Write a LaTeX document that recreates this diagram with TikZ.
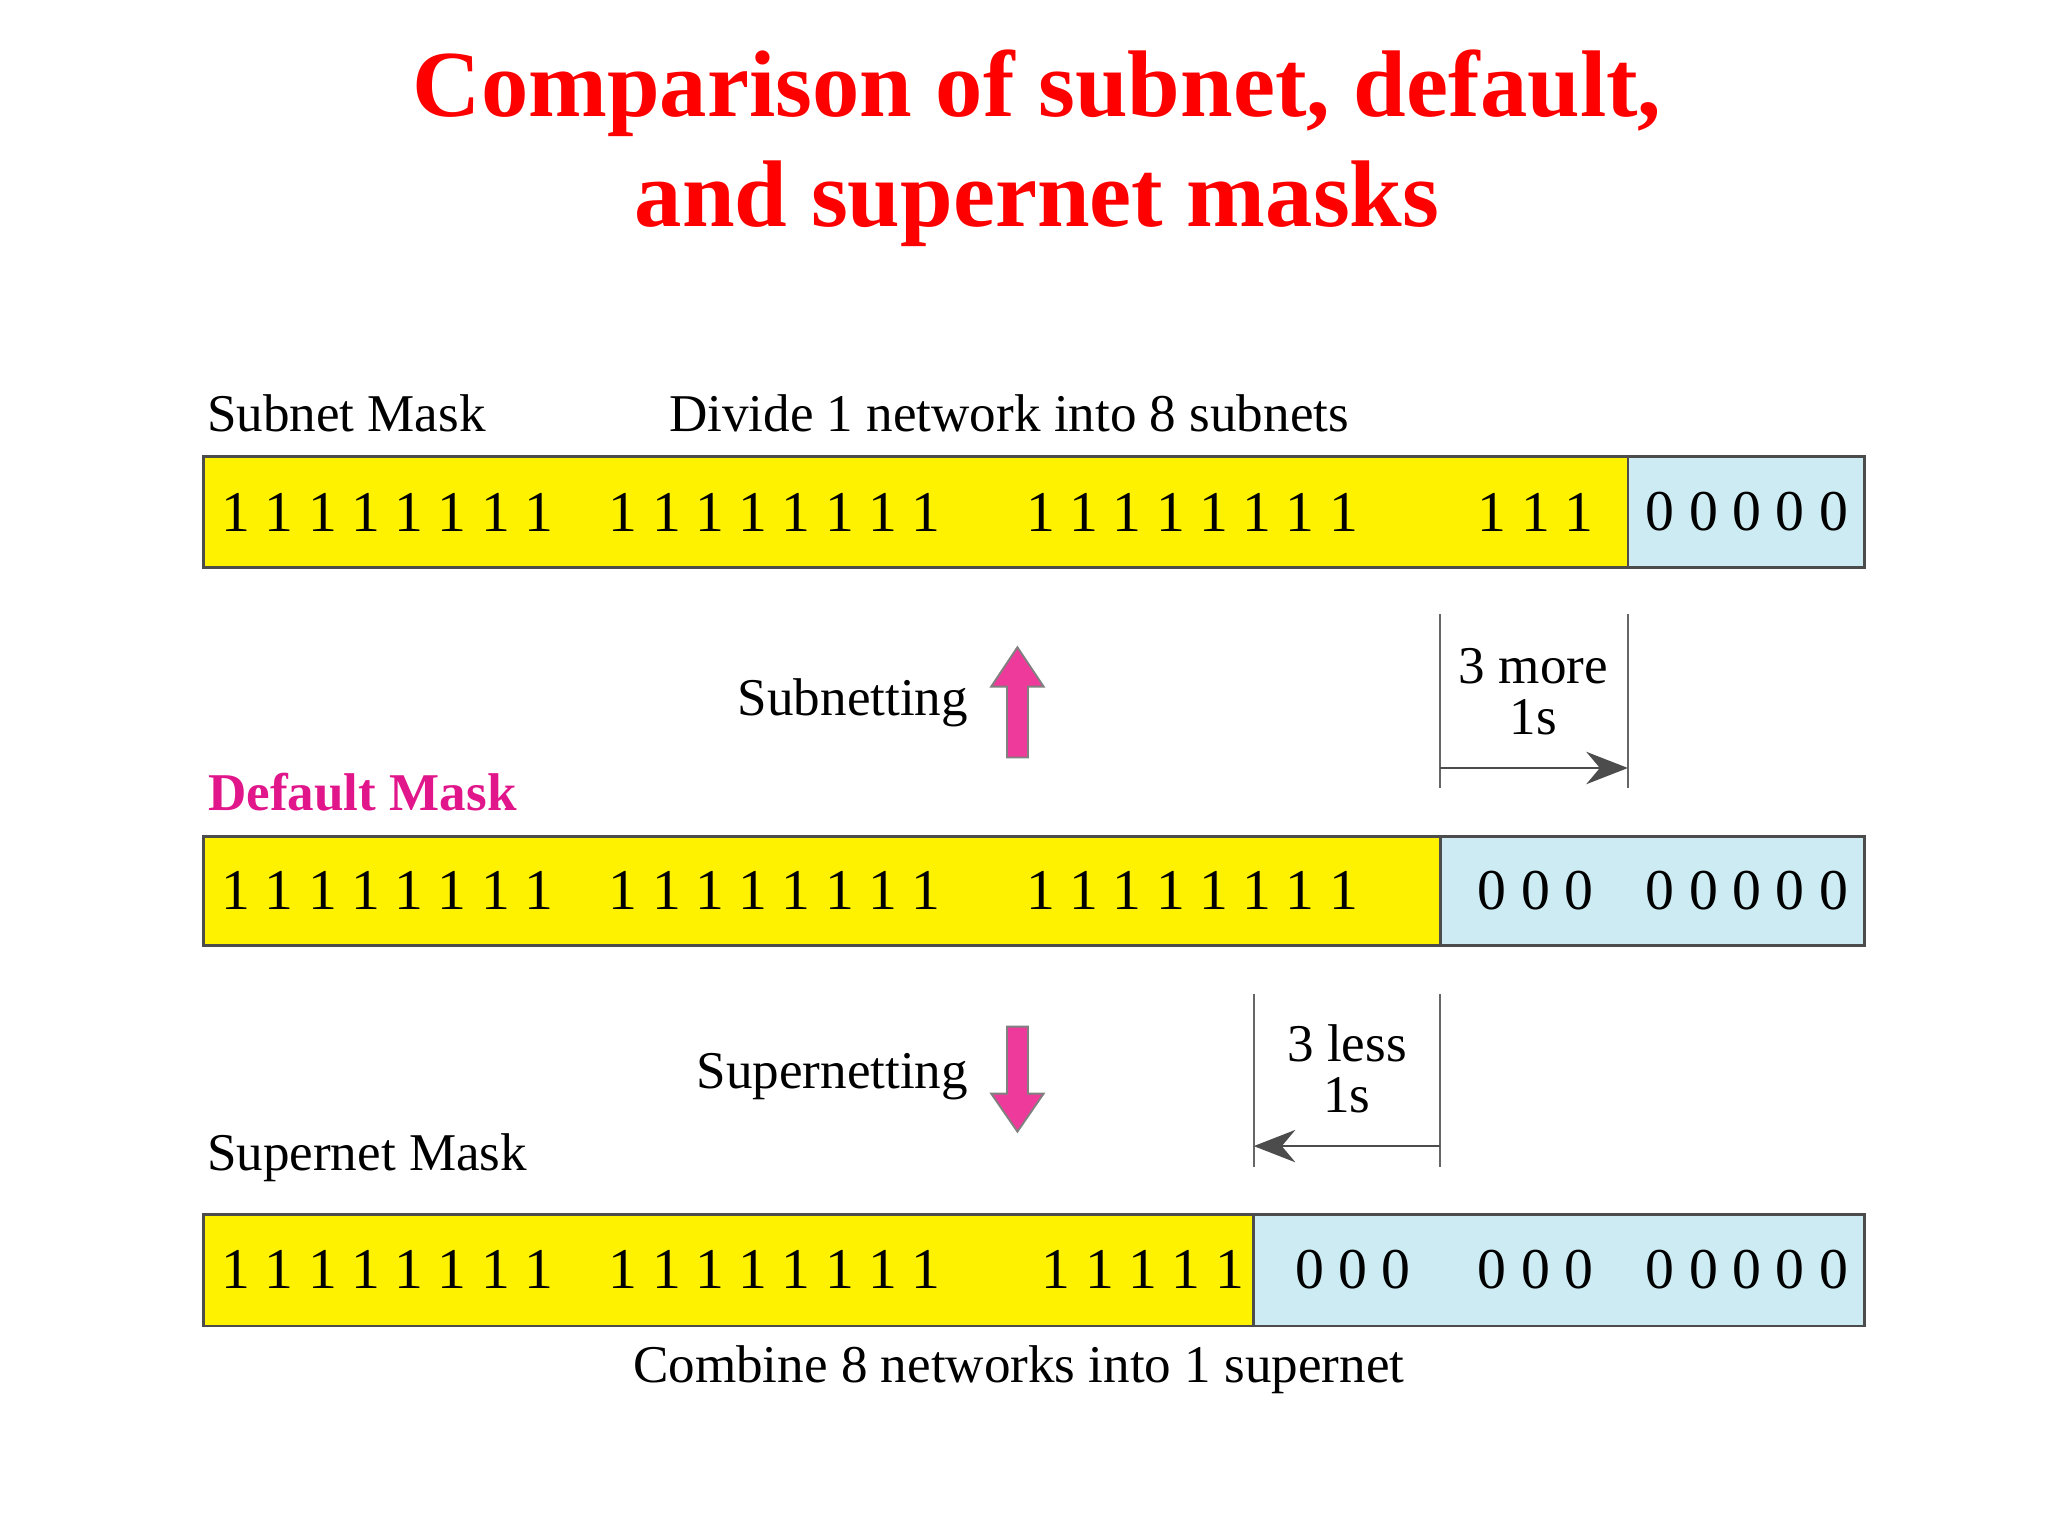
\documentclass[tikz,border=0pt]{standalone}
\usepackage{fontspec}
\setmainfont{Liberation Serif}
\usetikzlibrary{arrows.meta}
\definecolor{lblue}{HTML}{CDEBF2}
\definecolor{pinkc}{HTML}{EE3A9A}
\definecolor{magc}{HTML}{E0168A}
\tikzset{
  bits/.style={anchor=west,inner sep=0pt,font=\fontsize{12.5}{14}\selectfont},
  lbl/.style={inner sep=0pt,font=\fontsize{11.5}{13}\selectfont},
  box/.style={draw=black!70,line width=0.6pt},
  dim/.style={draw=black!60,line width=0.5pt},
  dimarrow/.style={draw=black!70,line width=0.5pt,-{Stealth[length=9pt,width=7pt]}},
  bigarrow/.style={fill=pinkc,draw=black!50,line width=0.4pt},
}
\begin{document}
\begin{tikzpicture}[x=0.01cm,y=-0.01cm]
\useasboundingbox (0,0) rectangle (1560,1170);
% title
\node[red,font=\bfseries\fontsize{20.5}{24}\selectfont,align=center] (title) at (790,113) {Comparison of subnet, default,\\and supernet masks};
% box 1
\fill[yellow] (155,348) rectangle (1240,432);
\fill[lblue] (1240,348) rectangle (1420,432);
\draw[box] (155,348) rectangle (1420,432);
\draw[box] (1240,348) -- (1240,432);
\node[bits] (a1) at (168,390) {1 1 1 1 1 1 1 1};
\node[bits] (a2) at (463,390) {1 1 1 1 1 1 1 1};
\node[bits] (a3) at (781,390) {1 1 1 1 1 1 1 1};
\node[bits] (a4) at (1125,390) {1 1 1};
\node[bits] (a5) at (1253,390) {0 0 0 0 0};
% box 2
\fill[yellow] (155,637) rectangle (1097,720);
\fill[lblue] (1097,637) rectangle (1420,720);
\draw[box] (155,637) rectangle (1420,720);
\draw[box] (1097,637) -- (1097,720);
\node[bits] (b1) at (168,678) {1 1 1 1 1 1 1 1};
\node[bits] (b2) at (463,678) {1 1 1 1 1 1 1 1};
\node[bits] (b3) at (781,678) {1 1 1 1 1 1 1 1};
\node[bits] (b4) at (1125,678) {0 0 0};
\node[bits] (b5) at (1253,678) {0 0 0 0 0};
% box 3
\fill[yellow] (155,925) rectangle (955,1010);
\fill[lblue] (955,925) rectangle (1420,1010);
\draw[box] (155,925) rectangle (1420,1010);
\draw[box] (955,925) -- (955,1010);
\node[bits] (c1) at (168,967) {1 1 1 1 1 1 1 1};
\node[bits] (c2) at (463,967) {1 1 1 1 1 1 1 1};
\node[bits] (c3) at (793,967) {1 1 1 1 1};
\node[bits] (c4) at (986,967) {0 0 0};
\node[bits] (c5) at (1125,967) {0 0 0};
\node[bits] (c6) at (1253,967) {0 0 0 0 0};
% labels
\node[lbl,anchor=west] (l1) at (157,315) {Subnet Mask};
\node[lbl,anchor=west] (l2) at (509,315) {Divide 1 network into 8 subnets};
\node[lbl,anchor=west,magc,font=\bfseries\fontsize{11.5}{13}\selectfont] (l3) at (158,603) {Default Mask};
\node[lbl,anchor=west] (l4) at (157,882) {Supernet Mask};
\node[lbl] (l5) at (776,1043) {Combine 8 networks into 1 supernet};
\node[lbl,anchor=east] (s1) at (738,535) {Subnetting};
\node[lbl,anchor=east] (s2) at (738,820) {Supernetting};
% big arrows
\draw[bigarrow] (767,577) -- (767,523) -- (755,523) -- (775,493) -- (795,523) -- (783,523) -- (783,577) -- cycle;
\draw[bigarrow] (767,782) -- (767,833) -- (755,833) -- (775,862) -- (795,833) -- (783,833) -- (783,782) -- cycle;
% dimension 1
\coordinate (d1a) at (1097,468); \coordinate (d1b) at (1097,600);
\coordinate (d1c) at (1240,468); \coordinate (d1d) at (1240,600);
\draw[dim] (d1a) -- (d1b); \draw[dim] (d1c) -- (d1d);
\coordinate (d1s) at (1097,585); \coordinate (d1e) at (1240,585);
\draw[dimarrow] (d1s) -- (d1e);
\node[lbl,align=center] (t1) at (1168,527) {3 more\\[-2pt]1s};
% dimension 2
\coordinate (d2a) at (955,757); \coordinate (d2b) at (955,889);
\coordinate (d2c) at (1097,757); \coordinate (d2d) at (1097,889);
\draw[dim] (d2a) -- (d2b); \draw[dim] (d2c) -- (d2d);
\coordinate (d2s) at (1097,873); \coordinate (d2e) at (955,873);
\draw[dimarrow] (d2s) -- (d2e);
\node[lbl,align=center] (t2) at (1026,814) {3 less\\[-2pt]1s};
\end{tikzpicture}
\end{document}
